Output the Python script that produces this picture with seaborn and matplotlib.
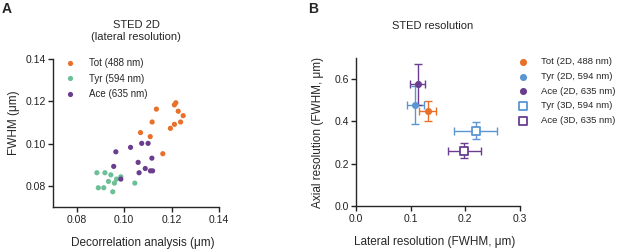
import matplotlib
matplotlib.use("Agg")
import matplotlib.pyplot as plt
import seaborn as sns
import pandas as pd
import numpy as np

# ---------- Panel A data ----------
tot_x = [0.1136, 0.1218, 0.1212, 0.1228, 0.1249, 0.1238, 0.1212, 0.1195, 0.1118, 0.1069, 0.1110, 0.1163]
tot_y = [0.1163, 0.1193, 0.1183, 0.1153, 0.1132, 0.1102, 0.1091, 0.1072, 0.1102, 0.1052, 0.1033, 0.0952]
ace_x = [0.0965, 0.1027, 0.1074, 0.1101, 0.0956, 0.1059, 0.1117, 0.1063, 0.1089, 0.1111, 0.1120, 0.0986]
ace_y = [0.0961, 0.0982, 0.1001, 0.1001, 0.0892, 0.0911, 0.0931, 0.0862, 0.0882, 0.0871, 0.0871, 0.0832]
tyr_x = [0.0885, 0.0919, 0.0944, 0.0968, 0.0986, 0.0934, 0.0959, 0.0891, 0.0914, 0.0952, 0.1045]
tyr_y = [0.0862, 0.0862, 0.0852, 0.0832, 0.0843, 0.0821, 0.0813, 0.0791, 0.0791, 0.0772, 0.0813]
a_labels = ["Tot (488 nm)", "Tyr (594 nm)", "Ace (635 nm)"]

# ---------- Panel B data ----------
b_labels = ["Tot (2D, 488 nm)", "Tyr (2D, 594 nm)", "Ace (2D, 635 nm)", "Tyr (3D, 594 nm)", "Ace (3D, 635 nm)"]
b_x = [0.131, 0.1085, 0.113, 0.219, 0.198]
b_y = [0.450, 0.477, 0.575, 0.356, 0.261]
b_xerr = [0.016, 0.015, 0.014, 0.039, 0.030]
b_yerr = [0.046, 0.091, 0.096, 0.040, 0.036]

ORANGE = "#E8702A"
GREEN = "#6DBF97"
PURPLE = "#6A3D8F"
BLUE = "#5B96D3"

sns.set_theme(style="ticks")
plt.rcParams["font.family"] = ["Liberation Sans", "DejaVu Sans"]
plt.rcParams["axes.linewidth"] = 1.0
plt.rcParams["xtick.major.width"] = 1.0
plt.rcParams["ytick.major.width"] = 1.0
plt.rcParams["xtick.major.size"] = 3.5
plt.rcParams["ytick.major.size"] = 3.5
plt.rcParams["xtick.major.pad"] = 2.0
plt.rcParams["ytick.major.pad"] = 1.5
plt.rcParams["xtick.labelsize"] = 7.5
plt.rcParams["ytick.labelsize"] = 7.5
plt.rcParams["xtick.color"] = "#222222"
plt.rcParams["ytick.color"] = "#222222"

W, H = 617, 249
fig = plt.figure(figsize=(W / 100, H / 100), dpi=100)

def px_axes(x0, y0, x1, y1):
    return fig.add_axes([x0 / W, 1 - y1 / H, (x1 - x0) / W, (y1 - y0) / H])

# ---------- Panel A ----------
axA = px_axes(53, 59, 219, 207)
dfA = pd.DataFrame({
    "x": tot_x + tyr_x + ace_x,
    "y": tot_y + tyr_y + ace_y,
    "g": [a_labels[0]] * len(tot_x) + [a_labels[1]] * len(tyr_x) + [a_labels[2]] * len(ace_x),
})
sns.scatterplot(data=dfA, x="x", y="y", hue="g", hue_order=a_labels,
                palette=[ORANGE, GREEN, PURPLE], s=14, linewidth=0, ax=axA)
axA.set_xlim(0.07, 0.14)
axA.set_ylim(0.07, 0.14)
axA.set_xticks([0.08, 0.10, 0.12, 0.14])
axA.set_yticks([0.08, 0.10, 0.12, 0.14])
axA.set_xticklabels(["0.08", "0.10", "0.12", "0.14"])
axA.set_yticklabels(["0.08", "0.10", "0.12", "0.14"])
axA.set_xlabel("Decorrelation analysis (\u03bcm)", fontsize=8.5)
axA.xaxis.set_label_coords(0.54, -0.2)
axA.set_ylabel("FWHM (\u03bcm)", fontsize=8.5)
axA.yaxis.set_label_coords(-0.2, 0.57)
axA.set_title("STED 2D\n(lateral resolution)", fontsize=8, pad=14, linespacing=1.2)
sns.despine(ax=axA)
legA = axA.legend(loc="upper left", frameon=False, fontsize=7, handletextpad=1.0,
                  labelspacing=0.55, borderaxespad=0.0, bbox_to_anchor=(0.02, 1.03),
                  markerscale=1.0)
fig.text(2 / W, 1 - 9 / H, "A", fontsize=10, fontweight="bold", va="center", ha="left")

# ---------- Panel B ----------
axB = px_axes(356, 58, 520, 206)
colorsB = [ORANGE, BLUE, PURPLE, BLUE, PURPLE]
markersB = ["o", "o", "o", "s", "s"]
filledB = [True, True, True, False, False]
dfB = pd.DataFrame({"x": b_x, "y": b_y, "g": b_labels})
for i in range(len(b_labels)):
    axB.errorbar(b_x[i], b_y[i], xerr=b_xerr[i], yerr=b_yerr[i], fmt="none",
                 ecolor=colorsB[i], elinewidth=1.0, capsize=3, capthick=1.0, zorder=2)
for i in range(len(b_labels)):
    sub = dfB.iloc[[i]]
    if filledB[i]:
        sns.scatterplot(data=sub, x="x", y="y", color=colorsB[i], marker=markersB[i],
                        s=26, linewidth=0, ax=axB, label=b_labels[i], zorder=3)
    else:
        sns.scatterplot(data=sub, x="x", y="y", marker=markersB[i], s=30,
                        facecolor="white", edgecolor=colorsB[i], linewidth=1.3,
                        ax=axB, label=b_labels[i], zorder=3)
axB.set_xlim(0, 0.3)
axB.set_ylim(0, 0.7)
axB.set_xticks([0.0, 0.1, 0.2, 0.3])
axB.set_yticks([0.0, 0.2, 0.4, 0.6])
axB.set_xticklabels(["0.0", "0.1", "0.2", "0.3"])
axB.set_yticklabels(["0.0", "0.2", "0.4", "0.6"])
axB.set_xlabel("Lateral resolution (FWHM, \u03bcm)", fontsize=8.5)
axB.xaxis.set_label_coords(0.48, -0.2)
axB.set_ylabel("Axial resolution (FWHM, \u03bcm)", fontsize=8.5)
axB.yaxis.set_label_coords(-0.195, 0.5)
axB.set_title("STED resolution", fontsize=8, x=0.47, pad=21)
sns.despine(ax=axB)
legB = axB.legend(loc="upper left", frameon=False, fontsize=6.8, handletextpad=0.9,
                  labelspacing=0.6, borderaxespad=0.0, bbox_to_anchor=(0.935, 1.03))
fig.text(308 / W, 1 - 9 / H, "B", fontsize=10, fontweight="bold", va="center", ha="left")

fig.savefig("out.png", dpi=100)
